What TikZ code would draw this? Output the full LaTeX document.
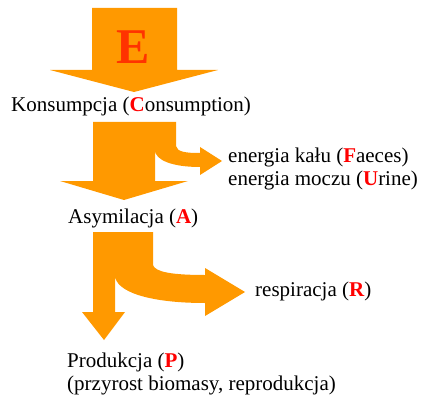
\documentclass[tikz,border=0pt]{standalone}
\usepackage{fontspec}
\setmainfont{Liberation Serif}
\definecolor{arrorange}{RGB}{255,153,0}
\definecolor{ered}{RGB}{255,51,0}
\definecolor{lred}{RGB}{255,0,0}
\newcommand{\redb}[1]{\textcolor{lred}{\textbf{#1}}}
\tikzset{
  flow/.style={fill=arrorange, draw=none},
  lbl/.style={anchor=base west, inner sep=0pt, font=\fontsize{21}{24}\selectfont},
}
\begin{document}
\begin{tikzpicture}[x=1pt,y=-1pt]
\useasboundingbox (0,0) rectangle (427,403);
% arrow E
\fill[flow] (92,8) -- (177,8) -- (177,70) -- (218,70) -- (134,92) -- (50,70) -- (92,70) -- cycle;
\node[font=\fontsize{50}{50}\selectfont\bfseries, text=ered, inner sep=0pt] (E) at (133,47) {E};
% arrow consumption
\fill[flow] (93,122) -- (176,122) -- (176,146) .. controls (177,152) and (186,153) .. (200,153)
  -- (200,147) -- (222,161) -- (200,175) -- (200,167)
  .. controls (172,167) and (155,160) .. (155,150)
  -- (155,181) -- (188,181) -- (124,200) -- (60,181) -- (93,181) -- cycle;
% arrow assimilation
\fill[flow] (93,232) -- (153,232) -- (153,265) .. controls (155,272) and (172,275) .. (205,275)
  -- (205,268) -- (245,292) -- (205,316) -- (205,303)
  .. controls (150,303) and (115,292) .. (115,275)
  -- (115,312) -- (125,312) -- (104,340) -- (82,312) -- (93,312) -- cycle;
% labels
\node[lbl] (kons) at (11,112) {Konsumpcja (\redb{C}onsumption)};
\node[lbl] (fae) at (228,162) {energia kału (\redb{F}aeces)};
\node[lbl] (uri) at (228,185) {energia moczu (\redb{U}rine)};
\node[lbl] (asy) at (68,223) {Asymilacja (\redb{A})};
\node[lbl] (res) at (255,296) {respiracja (\redb{R})};
\node[lbl] (pro) at (67,367) {Produkcja (\redb{P})};
\node[lbl] (prz) at (67,390) {(przyrost biomasy, reprodukcja)};
\end{tikzpicture}
\end{document}
